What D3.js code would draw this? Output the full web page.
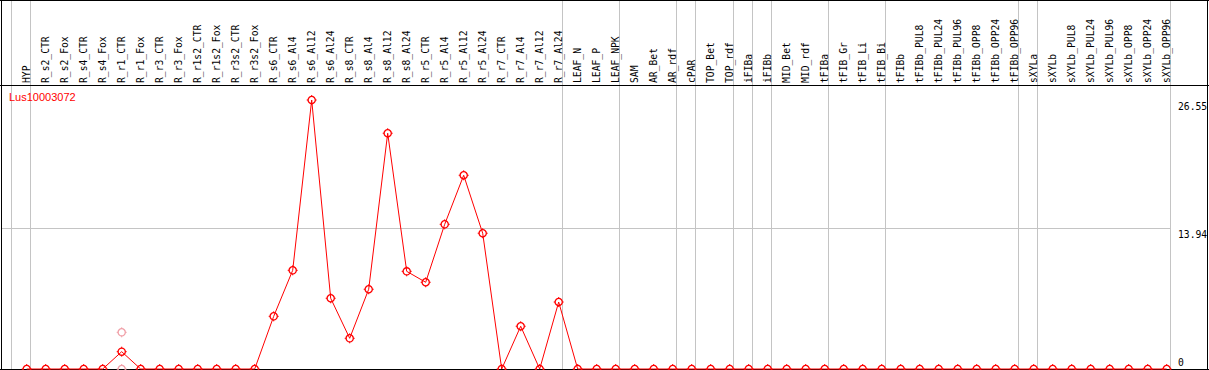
<!DOCTYPE html>
<html>
<head>
<meta charset="utf-8">
<script src="https://cdn.jsdelivr.net/npm/d3@7"></script>
<style>
  body { margin: 0; background: #fff; }
  svg { display: block; }
</style>
</head>
<body>
<div id="chart"></div>
<script>

var geneName = "Lus10003072";

var samples = ["HYP", "R_s2_CTR", "R_s2_Fox", "R_s4_CTR", "R_s4_Fox", "R_r1_CTR", "R_r1_Fox",
	"R_r3_CTR", "R_r3_Fox", "R_r1s2_CTR", "R_r1s2_Fox", "R_r3s2_CTR", "R_r3s2_Fox",
	"R_s6_CTR", "R_s6_Al4", "R_s6_Al12", "R_s6_Al24", "R_s8_CTR", "R_s8_Al4", "R_s8_Al12",
	"R_s8_Al24", "R_r5_CTR", "R_r5_Al4", "R_r5_Al12", "R_r5_Al24", "R_r7_CTR", "R_r7_Al4",
	"R_r7_Al12", "R_r7_Al24", "LEAF_N", "LEAF_P", "LEAF_NPK", "SAM", "AR_Bet", "AR_rdf",
	"cPAR", "TOP_Bet", "TOP_rdf", "iFIBa", "iFIBb", "MID_Bet", "MID_rdf", "tFIBa",
	"tFIB_Gr", "tFIB_Li", "tFIB_Bi", "tFIBb", "tFIBb_PUL8", "tFIBb_PUL24", "tFIBb_PUL96",
	"tFIBb_OPP8", "tFIBb_OPP24", "tFIBb_OPP96", "sXYLa", "sXYLb", "sXYLb_PUL8",
	"sXYLb_PUL24", "sXYLb_PUL96", "sXYLb_OPP8", "sXYLb_OPP24", "sXYLb_OPP96"];

var meanValues = [0, 0, 0, 0, 0, 1.71, 0,
	0, 0, 0, 0, 0, 0,
	5.20, 9.74, 26.55, 6.98, 3.03, 7.87, 23.27,
	9.64, 8.56, 14.28, 19.12, 13.40, 0, 4.22,
	0, 6.61, 0, 0, 0, 0, 0, 0,
	0, 0, 0, 0, 0, 0, 0, 0,
	0, 0, 0, 0, 0, 0, 0,
	0, 0, 0, 0, 0, 0,
	0, 0, 0, 0, 0];

// single replicates that show apart from the mean
var replicates = [
	{ sample: "R_r1_CTR", value: 3.62 },
	{ sample: "R_r1_CTR", value: 0 }
];

// group separators: a line falls after these samples
var groupEnds = ["HYP", "R_r7_Al24", "LEAF_NPK", "AR_rdf", "cPAR", "TOP_rdf", "iFIBa",
	"iFIBb", "tFIBa", "tFIB_Bi", "tFIBb_OPP96", "sXYLa", "sXYLb_OPP96"];

var yTicks = [0, 13.94, 26.55];

var width = 1209,
    height = 370;
var headerBottom = 85,
    plotBottom = 369,
    plotTop = 100,
    frameRight = 1207,
    plotRight = 1170;
var red = "#ff0000",
    grey = "#c4c4c4";
var mono = "'DejaVu Sans Mono', monospace";

var svg = d3.select("#chart").append("svg")
	.attr("width", width)
	.attr("height", height);

var xScale = d3.scalePoint()
	.domain(samples)
	.range([26.7, 26.7 + 19 * (samples.length - 1)]);

var step = xScale.step();

var yScale = d3.scaleLinear()
	.domain([0, d3.max(meanValues)])
	.range([plotBottom, plotTop]);

// vertical separators, full height
var sepX = [xScale(samples[0]) - step].concat(groupEnds.map(function(s){ return xScale(s); }))
	.map(function(x){ return Math.round(x + 3.3) + 0.5; });

svg.append("g").selectAll("line")
	.data(sepX)
	.enter()
	.append("line")
	.attr("x1", function(d){ return d; })
	.attr("x2", function(d){ return d; })
	.attr("y1", 0)
	.attr("y2", plotBottom)
	.attr("stroke", grey)
	.attr("stroke-width", 1);

// horizontal grid at the middle tick
svg.append("g").selectAll("line")
	.data(yTicks.filter(function(t){ return t > 0 && t < d3.max(yTicks); }))
	.enter()
	.append("line")
	.attr("x1", 1)
	.attr("x2", plotRight)
	.attr("y1", function(d){ return Math.round(yScale(d)) + 0.5; })
	.attr("y2", function(d){ return Math.round(yScale(d)) + 0.5; })
	.attr("stroke", grey);

// frame
var frame = svg.append("g").attr("stroke", "#000").attr("stroke-width", 1);
frame.append("line").attr("x1", 0).attr("x2", width).attr("y1", 0.5).attr("y2", 0.5);
frame.append("line").attr("x1", 0).attr("x2", width).attr("y1", headerBottom + 0.5).attr("y2", headerBottom + 0.5);
frame.append("line").attr("x1", 0).attr("x2", width).attr("y1", plotBottom + 0.5).attr("y2", plotBottom + 0.5);
frame.append("line").attr("x1", 1.5).attr("x2", 1.5).attr("y1", 0).attr("y2", height);
frame.append("line").attr("x1", frameRight + 0.5).attr("x2", frameRight + 0.5).attr("y1", 0).attr("y2", height);

// sample labels, rotated
svg.append("g").selectAll("text")
	.data(samples)
	.enter()
	.append("text")
	.attr("transform", function(d){
	    return "translate(" + (xScale(d) + 3.3) + "," + (headerBottom - 2) + ") rotate(-90)";
	})
	.attr("font-family", mono)
	.attr("font-size", "9.7px")
	.attr("fill", "#000")
	.text(function(d){ return d; });

// y tick labels on the right
svg.append("g").selectAll("text")
	.data(yTicks)
	.enter()
	.append("text")
	.attr("x", 1178)
	.attr("y", function(d){ return Math.min(yScale(d) + 10, plotBottom - 3); })
	.attr("font-family", mono)
	.attr("font-size", "9.7px")
	.attr("fill", "#000")
	.text(function(d){ return d; });

// gene name
svg.append("text")
	.attr("x", 9)
	.attr("y", 101)
	.attr("font-family", "'Liberation Sans', Arial, sans-serif")
	.attr("font-size", "11px")
	.attr("fill", red)
	.text(geneName);

var points = samples.map(function(s, i){ return { sample: s, value: meanValues[i] }; });

var valueline = d3.line()
	.x(function(d){ return xScale(d.sample); })
	.y(function(d){ return yScale(d.value); });

svg.append("path")
	.datum(points)
	.attr("d", valueline)
	.attr("fill", "none")
	.attr("stroke", red)
	.attr("stroke-width", 1);

var marker = function(sel, colour){
    sel.append("circle")
	.attr("r", 3.6)
	.attr("fill", "none")
	.attr("stroke", colour)
	.attr("stroke-width", 1.3);
    sel.selectAll("line")
	.data([[0, -1], [0, 1], [-1, 0], [1, 0]])
	.enter()
	.append("line")
	.attr("x1", function(d){ return d[0] * 3.5; })
	.attr("y1", function(d){ return d[1] * 3.5; })
	.attr("x2", function(d){ return d[0] * 5; })
	.attr("y2", function(d){ return d[1] * 5; })
	.attr("stroke", colour)
	.attr("stroke-width", 1);
};

svg.append("g").selectAll("g")
	.data(replicates)
	.enter()
	.append("g")
	.attr("transform", function(d){ return "translate(" + xScale(d.sample) + "," + yScale(d.value) + ")"; })
	.each(function(){ marker(d3.select(this), "#f0a0a8"); });

svg.append("g").selectAll("g")
	.data(points)
	.enter()
	.append("g")
	.attr("transform", function(d){ return "translate(" + xScale(d.sample) + "," + yScale(d.value) + ")"; })
	.each(function(){ marker(d3.select(this), red); });

</script>
</body>
</html>
